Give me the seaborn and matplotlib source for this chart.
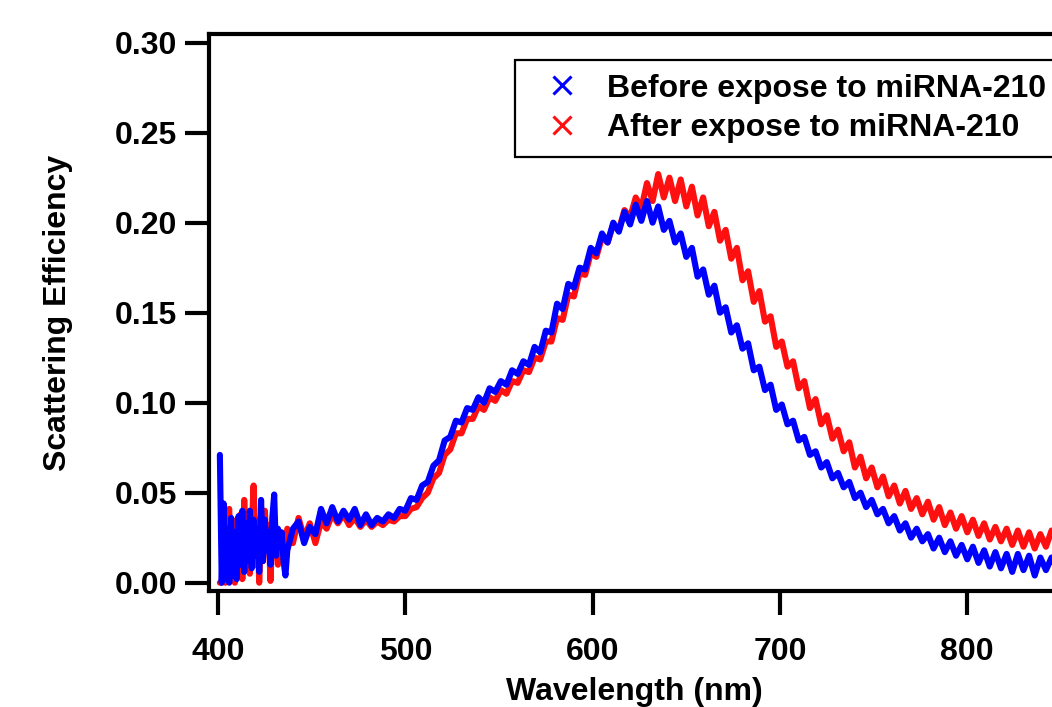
import numpy as np
import pandas as pd
import matplotlib
matplotlib.use("Agg")
import matplotlib.pyplot as plt
from matplotlib.lines import Line2D
import seaborn as sns

# ---- data ----
# sampling grid: 1 nm in the noisy blue edge, 3 nm afterwards
wavelength = np.concatenate([np.arange(401, 437, 1), np.arange(437, 849, 3)])

before = [
    # 401 - 436 (1 nm)
    0.071, 0.000, 0.044, 0.002, 0.030, 0.000, 0.036, 0.004, 0.028, 0.002, 0.037, 0.010,
    0.040, 0.006, 0.033, 0.012, 0.040, 0.008, 0.035, 0.015, 0.030, 0.006, 0.046, 0.012,
    0.035, 0.018, 0.028, 0.010, 0.036, 0.049, 0.015, 0.030, 0.020, 0.028, 0.012, 0.004,
    # 437 - 848 (3 nm)
    0.018, 0.030, 0.034, 0.022, 0.031, 0.027, 0.041, 0.033, 0.042, 0.034, 0.040, 0.035,
    0.041, 0.032, 0.038, 0.032, 0.036, 0.034, 0.038, 0.036, 0.041, 0.040, 0.047, 0.046,
    0.054, 0.056, 0.065, 0.068, 0.079, 0.081, 0.090, 0.089, 0.097, 0.096, 0.103, 0.100,
    0.108, 0.106, 0.112, 0.110, 0.118, 0.116, 0.123, 0.121, 0.131, 0.128, 0.140, 0.139,
    0.155, 0.152, 0.166, 0.164, 0.175, 0.174, 0.186, 0.183, 0.194, 0.189, 0.200, 0.195,
    0.206, 0.199, 0.210, 0.201, 0.212, 0.200, 0.209, 0.196, 0.201, 0.189, 0.194, 0.181,
    0.186, 0.170, 0.174, 0.160, 0.165, 0.150, 0.153, 0.139, 0.143, 0.130, 0.133, 0.118,
    0.120, 0.107, 0.110, 0.096, 0.099, 0.088, 0.090, 0.079, 0.081, 0.071, 0.073, 0.064,
    0.067, 0.058, 0.061, 0.053, 0.056, 0.047, 0.050, 0.042, 0.046, 0.038, 0.041, 0.033,
    0.037, 0.029, 0.033, 0.025, 0.030, 0.023, 0.027, 0.019, 0.025, 0.017, 0.023, 0.015,
    0.021, 0.013, 0.020, 0.011, 0.018, 0.009, 0.017, 0.008, 0.016, 0.006, 0.016, 0.007,
    0.015, 0.004, 0.014, 0.007, 0.014, 0.004,
]

after = [
    # 401 - 436 (1 nm)
    0.000, 0.000, 0.022, 0.000, 0.040, 0.041, 0.005, 0.030, 0.000, 0.035, 0.012, 0.038,
    0.002, 0.046, 0.020, 0.038, 0.005, 0.030, 0.054, 0.010, 0.035, 0.000, 0.028, 0.012,
    0.040, 0.020, 0.032, 0.001, 0.025, 0.015, 0.030, 0.010, 0.028, 0.014, 0.026, 0.020,
    # 437 - 848 (3 nm)
    0.030, 0.022, 0.036, 0.025, 0.033, 0.022, 0.034, 0.030, 0.038, 0.033, 0.038, 0.032,
    0.036, 0.031, 0.035, 0.031, 0.034, 0.032, 0.035, 0.034, 0.037, 0.037, 0.041, 0.042,
    0.047, 0.050, 0.058, 0.061, 0.071, 0.074, 0.083, 0.083, 0.091, 0.091, 0.098, 0.096,
    0.103, 0.101, 0.107, 0.105, 0.112, 0.111, 0.118, 0.117, 0.125, 0.124, 0.134, 0.134,
    0.147, 0.146, 0.160, 0.159, 0.172, 0.171, 0.183, 0.181, 0.192, 0.189, 0.199, 0.196,
    0.207, 0.203, 0.214, 0.208, 0.222, 0.212, 0.227, 0.214, 0.225, 0.212, 0.224, 0.209,
    0.220, 0.204, 0.214, 0.198, 0.206, 0.190, 0.196, 0.180, 0.186, 0.168, 0.173, 0.156,
    0.162, 0.145, 0.148, 0.131, 0.134, 0.120, 0.123, 0.108, 0.112, 0.097, 0.102, 0.088,
    0.093, 0.080, 0.085, 0.073, 0.078, 0.064, 0.070, 0.058, 0.064, 0.053, 0.059, 0.048,
    0.054, 0.044, 0.051, 0.041, 0.047, 0.038, 0.045, 0.035, 0.042, 0.032, 0.039, 0.030,
    0.037, 0.028, 0.035, 0.026, 0.033, 0.024, 0.031, 0.023, 0.030, 0.021, 0.029, 0.020,
    0.028, 0.019, 0.027, 0.020, 0.029, 0.021,
]

labels = ["Before expose to miRNA-210", "After expose to miRNA-210"]
x_ticks = [400, 500, 600, 700, 800]
y_ticks = [0.00, 0.05, 0.10, 0.15, 0.20, 0.25, 0.30]

# ---- style ----
sns.set_style("ticks")
plt.rcParams["font.family"] = ["Liberation Sans", "DejaVu Sans"]
plt.rcParams["font.weight"] = "bold"
plt.rcParams["text.color"] = "black"
plt.rcParams["axes.labelcolor"] = "black"
plt.rcParams["xtick.color"] = "black"
plt.rcParams["ytick.color"] = "black"

BLUE = "#0000ff"
RED = "#ff1010"
FS = 23

df_before = pd.DataFrame({"wavelength": wavelength, "value": before})
df_after = pd.DataFrame({"wavelength": wavelength, "value": after})

fig = plt.figure(figsize=(10.52, 7.07), dpi=100)
ax = fig.add_axes([209 / 1052, 116 / 707, 851 / 1052, 557 / 707])

sns.lineplot(data=df_after, x="wavelength", y="value", color=RED, linewidth=4.4,
             estimator=None, sort=False, ax=ax, legend=False)
sns.lineplot(data=df_before, x="wavelength", y="value", color=BLUE, linewidth=4.4,
             estimator=None, sort=False, ax=ax, legend=False)
for ln in ax.get_lines():
    ln.set_solid_joinstyle("round")
    ln.set_solid_capstyle("round")

ax.set_xlim(395.2, 849.5)
ax.set_ylim(-0.0046, 0.3048)
ax.set_xticks(x_ticks)
ax.set_yticks(y_ticks)
ax.set_yticklabels([f"{v:.2f}" for v in y_ticks])

for s in ax.spines.values():
    s.set_linewidth(3)
    s.set_color("black")

ax.tick_params(axis="both", direction="out", length=17, width=3, color="black",
               labelsize=FS, labelcolor="black")
ax.tick_params(axis="x", pad=16)
ax.tick_params(axis="y", pad=6)
for lab in ax.get_xticklabels() + ax.get_yticklabels():
    lab.set_fontweight("bold")

ax.set_xlabel("Wavelength (nm)", fontsize=FS, fontweight="bold", labelpad=7, color="black")
ax.set_ylabel("Scattering Efficiency", fontsize=FS, fontweight="bold", labelpad=30, color="black")

handles = [
    Line2D([], [], linestyle="none", marker="x", markersize=13, markeredgewidth=2.2, color=BLUE),
    Line2D([], [], linestyle="none", marker="x", markersize=13, markeredgewidth=2.2, color=RED),
]
leg = ax.legend(handles, labels, loc="upper left", bbox_to_anchor=(0.3596, 0.953),
                borderaxespad=0, frameon=True, fancybox=False, framealpha=1,
                edgecolor="black", prop={"size": FS, "weight": "bold"},
                handlelength=2.12, handletextpad=0.35, labelspacing=0.3,
                borderpad=0.42)
leg.get_frame().set_linewidth(1.6)
for t in leg.get_texts():
    t.set_color("black")

fig.savefig("out.png", dpi=100)
